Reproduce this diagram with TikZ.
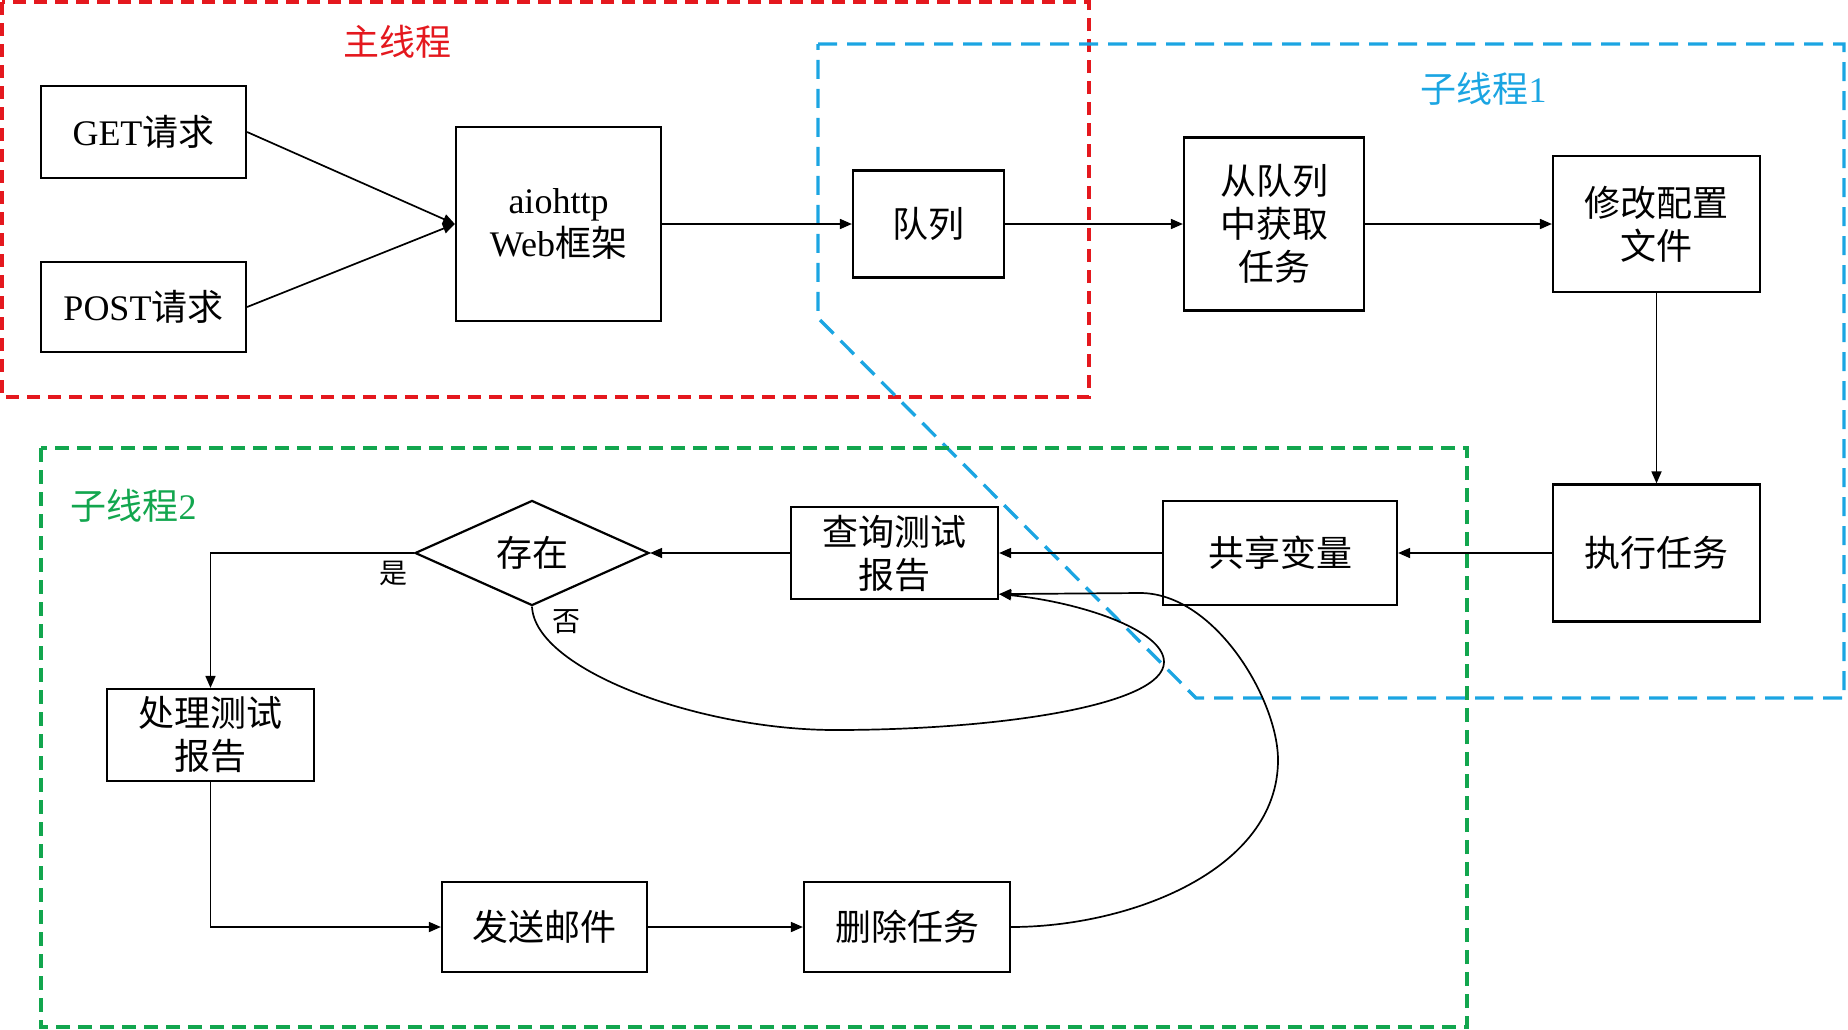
\documentclass[tikz,border=0pt]{standalone}
\usepackage{fontspec}
\setmainfont{Liberation Serif}
\newfontfamily\cjk{Noto Sans CJK SC}
\usetikzlibrary{arrows.meta,shapes.geometric}
\definecolor{mainred}{RGB}{228,24,30}
\definecolor{subblue}{RGB}{27,165,226}
\definecolor{subgreen}{RGB}{18,166,78}
\begin{document}
\begin{tikzpicture}[x=1pt,y=-1pt,
  box/.style={draw,line width=2.2pt,inner sep=0pt,align=center,
    font=\fontsize{36}{43}\selectfont\cjk},
  conn/.style={line width=1.7pt,-{Triangle[length=12pt,width=10pt]}},
  region/.style={line width=3.3pt},
  title/.style={inner sep=0pt,font=\fontsize{36}{43}\selectfont\cjk},
  tag/.style={inner sep=0pt,font=\fontsize{28}{32}\selectfont\cjk}]
\useasboundingbox (0,0) rectangle (1848,1029);

% thread regions
\draw[region,mainred,dash pattern=on 13pt off 8pt] (2,2) rectangle (1089,397);
\draw[region,subblue,dash pattern=on 19pt off 10pt] (818,44) -- (1844,44) -- (1844,698) -- (1196,698) -- (818,318) -- cycle;
\draw[region,subgreen,dash pattern=on 14pt off 8pt] (41,448) rectangle (1467,1027);

\node[title,text=mainred] (tmain) at (397.5,42) {主线程};
\node[title,text=subblue] (tsub1) at (1483.5,89) {子线程\rmfamily 1};
\node[title,text=subgreen] (tsub2) at (133.5,506) {子线程\rmfamily 2};

% main thread
\node[box,minimum width=205pt,minimum height=92pt] (get) at (143.5,132) {\rmfamily GET\cjk 请求};
\node[box,minimum width=205pt,minimum height=90pt] (post) at (143.5,307) {\rmfamily POST\cjk 请求};
\node[box,minimum width=205pt,minimum height=194pt] (web) at (558.5,224) {\rmfamily aiohttp\\\rmfamily Web\cjk 框架};
\node[box,minimum width=151pt,minimum height=107pt] (queue) at (928.5,224) {队列};

% worker thread 1
\node[box,minimum width=180pt,minimum height=173pt] (fetch) at (1274,224) {从队列\\中获取\\任务};
\node[box,minimum width=207pt,minimum height=136pt] (modify) at (1656.5,224) {修改配置\\文件};
\node[box,minimum width=207pt,minimum height=137pt] (exec) at (1656.5,553) {执行任务};
\node[box,minimum width=234pt,minimum height=104pt] (share) at (1280,553) {共享变量};

% worker thread 2
\node[box,minimum width=207pt,minimum height=92pt] (query) at (894.5,553) {查询测试\\报告};
\node[box,diamond,minimum width=234pt,minimum height=100pt] (exist) at (532,553) {存在};
\node[box,minimum width=207pt,minimum height=92pt] (proc) at (210.5,735) {处理测试\\报告};
\node[box,minimum width=205pt,minimum height=90pt] (send) at (544.5,927) {发送邮件};
\node[box,minimum width=206pt,minimum height=90pt] (del) at (907,927) {删除任务};

\node[tag] (yes) at (393,573) {是};
\node[tag] (no) at (566,622) {否};

\coordinate (qin) at ([yshift=6pt]query.south east);

% connectors
\draw[conn] (get.east) -- (web.west);
\draw[conn] (post.east) -- (web.west);
\draw[conn] (web.east) -- (queue.west);
\draw[conn] (queue.east) -- (fetch.west);
\draw[conn] (fetch.east) -- (modify.west);
\draw[conn] (modify.south) -- (exec.north);
\draw[conn] (exec.west) -- (share.east);
\draw[conn] (share.west) -- (query.east);
\draw[conn] (query.west) -- (exist.east);
\draw[conn] (exist.west) -| (proc.north);
\draw[conn] (proc.south) |- (send.west);
\draw[conn] (send.east) -- (del.west);
\draw[conn] (exist.south) .. controls (535,670) and (700,730) .. (835,730)
  .. controls (1000,730) and (1164,705) .. (1164,662)
  .. controls (1164,630) and (1080,602) .. (qin);
\draw[conn] (del.east) .. controls (1130,927) and (1278,870) .. (1278,760)
  .. controls (1278,700) and (1215,593) .. (1140,593) -- (qin);
\end{tikzpicture}
\end{document}
